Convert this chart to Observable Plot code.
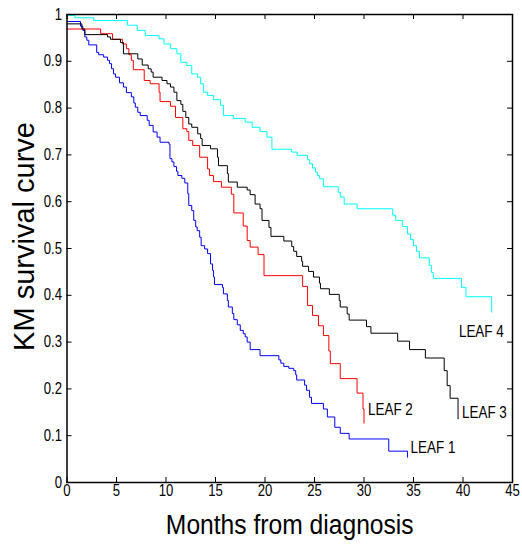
<!DOCTYPE html>
<html><head><meta charset="utf-8">
<script src="https://cdn.jsdelivr.net/npm/d3@7"></script>
<script src="https://cdn.jsdelivr.net/npm/@observablehq/plot@0.6"></script>
<style>body{margin:0;background:#fff}</style>
</head><body><div id="chart"></div>
<script>
// ---- data (step functions: value holds from month onwards) ----
const seriesNames = ["LEAF 1", "LEAF 2", "LEAF 3", "LEAF 4"];
const seriesColors = ["#0000ff", "#ff0000", "#000000", "#00ffff"];

const leaf1Months = [0, 1.36, 1.6, 1.8, 2.0, 2.2, 3.0, 3.2, 3.7, 4.1, 4.3, 4.5, 4.7, 4.9, 5.3, 5.7, 6.0, 6.5, 6.75, 6.9, 7.15, 7.4, 8.1, 8.3, 8.7, 9.1, 9.4, 10.3, 10.4, 10.6, 10.8, 11.06, 11.2, 11.6, 11.9, 12.2, 12.3, 12.6, 12.8, 13.0, 13.15, 13.4, 13.55, 13.9, 14.2, 14.5, 14.7, 14.8, 14.9, 15.7, 15.8, 16.2, 16.3, 16.7, 16.85, 17.2, 17.5, 17.8, 18.0, 18.2, 18.5, 19.5, 21.4, 21.6, 21.9, 22.4, 22.9, 23.1, 23.2, 24.0, 24.2, 24.5, 24.7, 25.9, 26.3, 27.05, 27.6, 28.5, 32.5, 34.4];
const leaf1Surv   = [0.985, 0.975, 0.966, 0.952, 0.945, 0.935, 0.919, 0.914, 0.909, 0.902, 0.895, 0.884, 0.873, 0.866, 0.854, 0.845, 0.833, 0.824, 0.811, 0.802, 0.791, 0.784, 0.774, 0.763, 0.749, 0.738, 0.727, 0.723, 0.692, 0.685, 0.675, 0.665, 0.656, 0.650, 0.640, 0.617, 0.592, 0.581, 0.560, 0.546, 0.538, 0.524, 0.506, 0.499, 0.489, 0.467, 0.453, 0.439, 0.423, 0.417, 0.403, 0.389, 0.375, 0.361, 0.348, 0.337, 0.325, 0.318, 0.311, 0.300, 0.284, 0.271, 0.262, 0.255, 0.248, 0.244, 0.239, 0.230, 0.219, 0.208, 0.197, 0.182, 0.169, 0.157, 0.140, 0.118, 0.105, 0.093, 0.067, 0.054];

const leaf2Months = [0, 3.4, 4.6, 5.6, 6.0, 6.25, 6.5, 6.7, 7.8, 8.4, 9.3, 9.4, 10.45, 10.96, 11.7, 12.1, 12.3, 12.7, 13.4, 14.2, 14.4, 14.8, 15.6, 16.6, 16.85, 17.8, 18.2, 18.5, 19.3, 19.9, 23.8, 24.3, 24.8, 25.4, 25.9, 26.45, 26.6, 27.6, 29.3, 29.9, 30.0];
const leaf2Surv   = [0.969, 0.959, 0.947, 0.937, 0.927, 0.914, 0.902, 0.882, 0.859, 0.852, 0.834, 0.814, 0.804, 0.780, 0.756, 0.750, 0.731, 0.720, 0.695, 0.670, 0.656, 0.643, 0.631, 0.616, 0.576, 0.548, 0.517, 0.503, 0.487, 0.442, 0.419, 0.378, 0.357, 0.335, 0.314, 0.281, 0.254, 0.222, 0.191, 0.157, 0.127];

const leaf3Months = [0, 1.5, 1.8, 4.1, 4.4, 5.4, 5.7, 7.15, 7.6, 8.2, 8.5, 8.7, 9.6, 10.1, 10.45, 10.8, 11.1, 11.5, 11.7, 12.0, 12.3, 12.6, 13.2, 13.5, 13.65, 14.5, 15.2, 15.3, 16.2, 16.3, 17.2, 18.2, 18.5, 19.0, 19.5, 19.7, 20.4, 20.6, 21.9, 22.7, 22.9, 23.2, 23.7, 23.8, 24.4, 24.9, 25.5, 25.6, 26.5, 27.5, 27.6, 28.3, 28.5, 30.25, 30.7, 33.4, 34.6, 36.2, 38.1, 38.4, 38.7, 39.5];
const leaf3Surv   = [0.980, 0.969, 0.957, 0.952, 0.947, 0.940, 0.916, 0.905, 0.892, 0.884, 0.877, 0.866, 0.859, 0.852, 0.845, 0.834, 0.816, 0.808, 0.793, 0.780, 0.766, 0.759, 0.745, 0.735, 0.720, 0.713, 0.695, 0.677, 0.660, 0.642, 0.631, 0.625, 0.615, 0.595, 0.585, 0.560, 0.545, 0.526, 0.516, 0.504, 0.494, 0.483, 0.473, 0.462, 0.451, 0.439, 0.426, 0.414, 0.402, 0.389, 0.375, 0.360, 0.347, 0.333, 0.319, 0.302, 0.284, 0.266, 0.239, 0.207, 0.180, 0.136];

const leaf4Months = [0, 0.8, 2.7, 6.1, 7.1, 7.9, 9.3, 9.8, 10.45, 11.1, 11.5, 12.1, 12.6, 13.2, 13.5, 13.8, 14.2, 14.8, 15.5, 15.8, 16.8, 18.0, 18.7, 19.5, 20.2, 20.7, 22.7, 23.25, 24.3, 24.5, 24.8, 25.1, 25.3, 25.5, 25.9, 27.4, 27.6, 28.0, 29.3, 32.9, 33.2, 33.9, 34.4, 34.7, 35.0, 35.3, 35.6, 36.6, 36.8, 37.0, 39.85, 40.3, 42.9];
const leaf4Surv   = [0.998, 0.993, 0.987, 0.977, 0.966, 0.955, 0.948, 0.937, 0.927, 0.916, 0.898, 0.891, 0.873, 0.866, 0.852, 0.834, 0.827, 0.818, 0.806, 0.784, 0.778, 0.770, 0.759, 0.750, 0.738, 0.712, 0.706, 0.699, 0.690, 0.681, 0.672, 0.663, 0.656, 0.649, 0.632, 0.620, 0.610, 0.595, 0.585, 0.571, 0.560, 0.547, 0.531, 0.519, 0.506, 0.494, 0.480, 0.464, 0.449, 0.436, 0.417, 0.397, 0.364];

const xTicks = [0, 5, 10, 15, 20, 25, 30, 35, 40, 45];
const xTickLabels = ["0", "5", "10", "15", "20", "25", "30", "35", "40", "45"];
const yTicks = [0, 0.1, 0.2, 0.3, 0.4, 0.5, 0.6, 0.7, 0.8, 0.9, 1];
const yTickLabels = ["0", "0.1", "0.2", "0.3", "0.4", "0.5", "0.6", "0.7", "0.8", "0.9", "1"];
const xTitle = "Months from diagnosis";
const yTitle = "KM survival curve";

// ---- build table ----
const monthsList = [leaf1Months, leaf2Months, leaf3Months, leaf4Months];
const survList = [leaf1Surv, leaf2Surv, leaf3Surv, leaf4Surv];
const rows = [];
seriesNames.forEach((name, k) => {
  monthsList[k].forEach((m, i) => rows.push({leaf: name, month: m, surv: survList[k][i]}));
});
const ends = seriesNames.map((name, k) => ({
  leaf: name,
  month: monthsList[k][monthsList[k].length - 1],
  surv: survList[k][survList[k].length - 1]
}));

// ---- layout ----
const W = 522, H = 544, mL = 66.5, mR = 10, mT = 14, mB = 62;
const innerW = W - mL - mR, innerH = H - mT - mB;
const tickLen = 5;
const font = "'Liberation Sans', Arial, Helvetica, sans-serif";

const labelOffsets = {
  "LEAF 1": {dx: 3, dy: -9, anchor: "start"},
  "LEAF 2": {dx: 4, dy: -13, anchor: "start"},
  "LEAF 3": {dx: 4, dy: -6, anchor: "start"},
  "LEAF 4": {dx: 12, dy: 19.5, anchor: "end"}
};

const chart = Plot.plot({
  width: W, height: H,
  marginLeft: mL, marginRight: mR, marginTop: mT, marginBottom: mB,
  style: {background: "#fff", color: "#000", fontFamily: font, overflow: "visible"},
  x: {domain: [0, 45]},
  y: {domain: [0, 1]},
  color: {domain: seriesNames, range: seriesColors},
  marks: [
    Plot.line(rows, {x: "month", y: "surv", z: "leaf", stroke: "leaf", curve: "step-after", strokeWidth: 1}),
    ...seriesNames.map(name => Plot.text(ends.filter(d => d.leaf === name), {
      x: "month", y: "surv", text: "leaf",
      dx: labelOffsets[name].dx, dy: labelOffsets[name].dy,
      textAnchor: labelOffsets[name].anchor,
      fontSize: 16, fill: "#000"
    })),
    // inward ticks on all four sides
    Plot.tickX(xTicks, {x: d => d, insetTop: innerH - tickLen, stroke: "#000", strokeWidth: 1}),
    Plot.tickX(xTicks, {x: d => d, insetBottom: innerH - tickLen, stroke: "#000", strokeWidth: 1}),
    Plot.tickY(yTicks, {y: d => d, insetRight: innerW - tickLen, stroke: "#000", strokeWidth: 1}),
    Plot.tickY(yTicks, {y: d => d, insetLeft: innerW - tickLen, stroke: "#000", strokeWidth: 1}),
    Plot.axisX(xTicks, {tickSize: 0, tickPadding: 2, label: null, fontSize: 16,
      tickFormat: d => xTickLabels[xTicks.indexOf(d)]}),
    Plot.axisY(yTicks, {tickSize: 0, tickPadding: 5, label: null, fontSize: 16,
      tickFormat: d => yTickLabels[yTicks.indexOf(d)]}),
    Plot.text([xTitle], {frameAnchor: "bottom", text: d => d, textAnchor: "middle", lineAnchor: "middle",
      dy: 43, fontSize: 28, fill: "#000"}),
    Plot.text([yTitle], {frameAnchor: "left", text: d => d, rotate: -90, textAnchor: "middle", lineAnchor: "middle",
      dx: -42.5, dy: -12, fontSize: 29, fill: "#000"}),
    Plot.frame({stroke: "#000", strokeWidth: 1.5})
  ]
});

// condense glyphs horizontally (the reference uses a narrow Helvetica)
function condense(nodes, k) {
  nodes.forEach(node => {
    const t = node.getAttribute("transform") || "";
    node.setAttribute("transform", `${t} scale(${k},1)`);
  });
}
const svgSel = d3.select(chart);
condense(svgSel.selectAll('g[aria-label="x-axis tick label"] text').nodes(), 0.82);
condense(svgSel.selectAll('g[aria-label="y-axis tick label"] text').nodes(), 0.82);
const textGroups = svgSel.selectAll('g[aria-label="text"]').nodes();
// first four text groups are the LEAF labels, the fifth is the x title
textGroups.slice(0, 4).forEach(g => condense(Array.from(g.querySelectorAll("text")), 0.84));
if (textGroups[4]) condense(Array.from(textGroups[4].querySelectorAll("text")), 0.88);

document.getElementById("chart").appendChild(chart);
</script>
</body></html>
